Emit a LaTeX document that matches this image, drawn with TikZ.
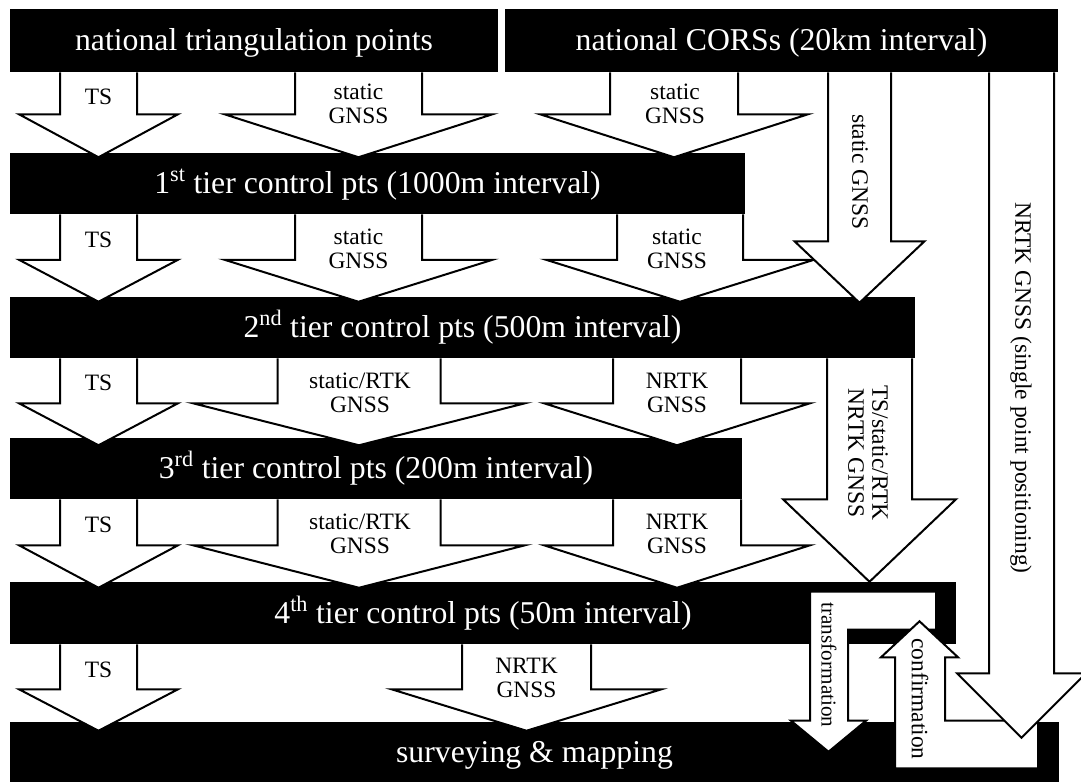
\documentclass[tikz,border=0pt]{standalone}
\usepackage{fontspec}
\setmainfont{Liberation Serif}
\usetikzlibrary{calc}
\newcommand\bigfont{\fontsize{23.8pt}{28pt}\selectfont}
\newcommand\smallfont{\fontsize{17.6pt}{18pt}\selectfont}
\newcommand\trfont{\fontsize{15.9pt}{18pt}\selectfont}
\tikzset{
  blk/.style={draw=black, fill=white, line width=1.5pt, line join=miter},
  bar/.style={fill=black, draw=none, inner sep=0pt, text=white, font=\bigfont, text height=15.7pt, text depth=0pt},
  lbl/.style={inner sep=0pt, font=\smallfont, anchor=base},
  vlbl/.style={inner sep=0pt, font=\smallfont, rotate=-90, anchor=center, align=center},
}
% #1 from node, #2 to node, #3 x centre, #4 shaft half width, #5 head half width,
% #6 shoulder offset below #1.south, #7 tip offset below #2.north
\newcommand\blkarrow[7]{%
  \filldraw[blk] ($(#1.south -| #3,0)+(-#4,0)$) -- ($(#1.south -| #3,0)+(-#4,#6)$)
    -- ($(#1.south -| #3,0)+(-#5,#6)$) -- ($(#2.north -| #3,0)+(0,#7)$)
    -- ($(#1.south -| #3,0)+(#5,#6)$) -- ($(#1.south -| #3,0)+(#4,#6)$)
    -- ($(#1.south -| #3,0)+(#4,0)$);}
\begin{document}
\begin{tikzpicture}[x=0.75pt, y=-0.75pt]
\useasboundingbox (0,0) rectangle (1081,783);

% tiers
\node[bar, minimum width=488*0.75pt, minimum height=63*0.75pt] (b0) at (254,40.5) {national triangulation points};
\node[bar, minimum width=553*0.75pt, minimum height=63*0.75pt] (b1) at (781.5,40.5) {national CORSs (20km interval)};
\node[bar, minimum width=735*0.75pt, minimum height=61*0.75pt] (t1) at (377.5,183.5) {1\textsuperscript{st} tier control pts (1000m interval)};
\node[bar, minimum width=905*0.75pt, minimum height=61*0.75pt] (t2) at (462.5,327.5) {2\textsuperscript{nd} tier control pts (500m interval)};
\node[bar, minimum width=732*0.75pt, minimum height=61*0.75pt] (t3) at (376,468.5) {3\textsuperscript{rd} tier control pts (200m interval)};
\node[bar, minimum width=946*0.75pt, minimum height=62*0.75pt] (t4) at (483,613) {4\textsuperscript{th} tier control pts (50m interval)};
\node[bar, minimum width=1049*0.75pt, minimum height=60*0.75pt] (sm) at (534.5,752) {surveying \& mapping};

% row arrows
\blkarrow{b0}{t1}{98.5}{38.5}{79.5}{42}{4.5}
\blkarrow{b0}{t1}{358.5}{63.5}{134}{42}{4.5}
\blkarrow{b1}{t1}{674}{64}{134}{42}{4.5}
\blkarrow{t1}{t2}{98.5}{38.5}{79.5}{45.5}{5}
\blkarrow{t1}{t2}{358.5}{63.5}{134}{45.5}{5}
\blkarrow{t1}{t2}{680}{63}{134}{45.5}{5}
\blkarrow{t2}{t3}{98.5}{38.5}{79.5}{45}{7.5}
\blkarrow{t2}{t3}{359}{81.5}{166}{45}{7.5}
\blkarrow{t2}{t3}{677}{64}{133}{45}{7.5}
\blkarrow{t3}{t4}{98.5}{38.5}{79.5}{46}{6}
\blkarrow{t3}{t4}{359}{81.5}{166}{46}{6}
\blkarrow{t3}{t4}{677}{64}{133}{46}{6}
\blkarrow{t4}{sm}{98.5}{38.5}{79.5}{45}{9}
\blkarrow{t4}{sm}{526.5}{64.5}{135}{45}{9}

% row labels
\node[lbl] (l01a) at (98.5,104.5) {TS};
\node[lbl] (l01b) at (358.5,99.5) {static};
\node[lbl] (l01c) at (358.5,123) {GNSS};
\node[lbl] (l01d) at (675,99.5) {static};
\node[lbl] (l01e) at (675,123) {GNSS};

\node[lbl] (l12a) at (98.5,247.5) {TS};
\node[lbl] (l12b) at (358.5,244.5) {static};
\node[lbl] (l12c) at (358.5,268) {GNSS};
\node[lbl] (l12d) at (677,244.5) {static};
\node[lbl] (l12e) at (677,268) {GNSS};

\node[lbl] (l23a) at (98.5,390.5) {TS};
\node[lbl] (l23b) at (360,388) {static/RTK};
\node[lbl] (l23c) at (360,412) {GNSS};
\node[lbl] (l23d) at (677,388) {NRTK};
\node[lbl] (l23e) at (677,412) {GNSS};

\node[lbl] (l34a) at (98.5,532) {TS};
\node[lbl] (l34b) at (360,529.5) {static/RTK};
\node[lbl] (l34c) at (360,553.5) {GNSS};
\node[lbl] (l34d) at (677,529.5) {NRTK};
\node[lbl] (l34e) at (677,553.5) {GNSS};

\node[lbl] (l45a) at (98.5,677) {TS};
\node[lbl] (l45b) at (526.5,673) {NRTK};
\node[lbl] (l45c) at (526.5,697) {GNSS};

% vertical arrows
\blkarrow{b1}{t2}{859.5}{31.5}{65}{169}{6}
\node[vlbl] (lv1) at (860,172) {static GNSS};
\blkarrow{t2}{t4}{869.5}{42.5}{86.5}{141}{0}
\node[vlbl] (lv2) at (868,453) {TS/static/RTK\\NRTK GNSS};

% transformation (bent arrow 4th tier -> surveying)
\filldraw[blk] ($(t4.north -| 936,0)+(0,10)$) -- ($(t4.north -| 810,0)+(0,10)$)
  -- ($(sm.north -| 810,0)+(0,-1)$) -- ($(sm.north -| 791,0)+(0,-1)$)
  -- ($(sm.north -| 828.5,0)+(0,30)$) -- ($(sm.north -| 866,0)+(0,-1)$)
  -- ($(sm.north -| 848,0)+(0,-1)$) -- ($(t4.north -| 848,0)+(0,48)$)
  -- ($(t4.north -| 936,0)+(0,48)$) -- cycle;
\node[vlbl, font=\trfont] (ltr) at (829,665) {transformation};

% confirmation (bent arrow surveying -> 4th tier)
\filldraw[blk] ($(sm.south -| 1038,0)+(0,-14)$) -- ($(sm.north -| 1038,0)+(0,-1)$)
  -- ($(sm.north -| 945,0)+(0,-1)$) -- ($(t4.south -| 945,0)+(0,13)$)
  -- ($(t4.south -| 958,0)+(0,13)$) -- ($(t4.south -| 919.5,0)+(0,-23)$)
  -- ($(t4.south -| 881,0)+(0,13)$) -- ($(t4.south -| 895,0)+(0,13)$)
  -- ($(sm.south -| 895,0)+(0,-14)$) -- cycle;
\node[vlbl] (lcf) at (920,699) {confirmation};

% NRTK single point positioning
\blkarrow{b1}{sm}{1021.5}{32.5}{64.5}{601}{16}
\node[vlbl] (lv3) at (1021,388) {NRTK GNSS (single point positioning)};
\end{tikzpicture}
\end{document}
